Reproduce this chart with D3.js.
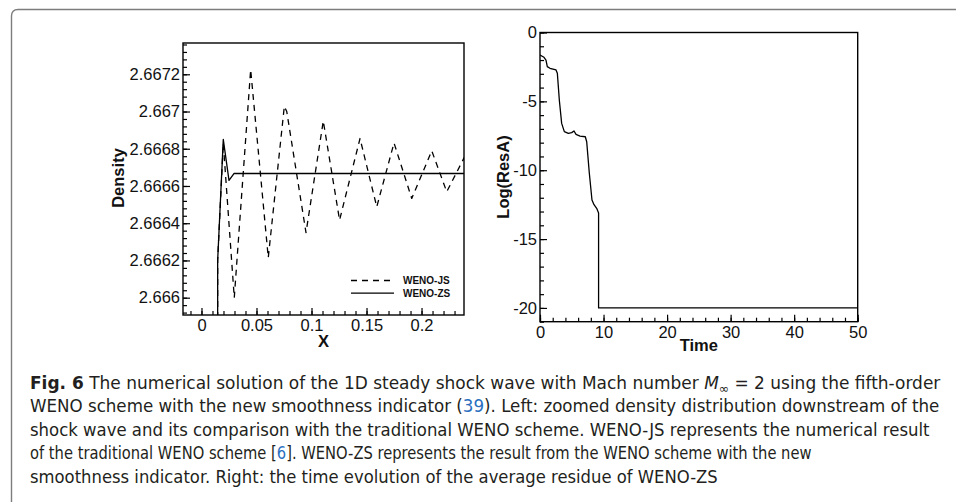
<!DOCTYPE html>
<html><head><meta charset="utf-8">
<script src="https://cdn.jsdelivr.net/npm/d3@7"></script>
<style>
html,body{margin:0;padding:0;background:#fff;}
svg{display:block;}
</style></head>
<body>
<svg id="chart" width="956" height="502"></svg>
<script>
// ---------- Data ----------
const leftXTicks = [0, 0.05, 0.1, 0.15, 0.2];
const leftXTickLabels = ["0", "0.05", "0.1", "0.15", "0.2"];
const densityTicks = [2.666, 2.6662, 2.6664, 2.6666, 2.6668, 2.667, 2.6672];
const densityTickLabels = ["2.666", "2.6662", "2.6664", "2.6666", "2.6668", "2.667", "2.6672"];

const wenoJS_x = [0.0147, 0.0147, 0.0198, 0.0298, 0.0447, 0.0607, 0.0753, 0.0775, 0.0950, 0.1107, 0.1255, 0.1441, 0.1593, 0.1750, 0.1911, 0.2093, 0.2229, 0.2390];
const wenoJS_y = [2.6640, 2.6662, 2.66683, 2.66600, 2.667225, 2.666215, 2.667028, 2.66700, 2.666349, 2.666949, 2.666417, 2.666855, 2.666488, 2.666831, 2.666533, 2.666789, 2.666569, 2.666755];
const wenoZS_x = [0.0147, 0.0147, 0.0198, 0.0250, 0.0295, 0.2390];
const wenoZS_y = [2.6640, 2.6662, 2.66685, 2.66663, 2.666667, 2.666667];
const legendLabels = ["WENO-JS", "WENO-ZS"];

const timeTicks = [0, 10, 20, 30, 40, 50];
const timeTickLabels = ["0", "10", "20", "30", "40", "50"];
const resTicks = [0, -5, -10, -15, -20];
const resTickLabels = ["0", "-5", "-10", "-15", "-20"];
const time_t = [0, 0.63, 0.94, 1.15, 1.57, 2.52, 2.73, 3.04, 3.41, 3.83, 4.46, 4.99, 5.35, 5.67, 6.3, 7.13, 7.35, 7.76, 8.18, 8.5, 8.92, 9.22, 9.22, 50];
const logResA = [-1.63, -1.8, -2.0, -2.48, -2.6, -2.72, -2.96, -4.9, -6.6, -7.2, -7.32, -7.27, -7.15, -7.4, -7.52, -7.57, -7.93, -10.2, -12.16, -12.5, -12.77, -13.1, -20, -20];

const captionLines = [
  [{t:"Fig. 6", w:"bold"}, {t:"  The numerical solution of the 1D steady shock wave with Mach number "}, {t:"M", i:true}, {t:"∞", sub:true}, {t:" = 2 using the fifth-order"}],
  [{t:"WENO scheme with the new smoothness indicator ("}, {t:"39", c:"#2a6fc0"}, {t:"). Left: zoomed density distribution downstream of the"}],
  [{t:"shock wave and its comparison with the traditional WENO scheme. WENO-JS represents the numerical result"}],
  [{t:"of the traditional WENO scheme ["}, {t:"6", c:"#2a6fc0"}, {t:"]. WENO-ZS represents the result from the WENO scheme with the new"}],
  [{t:"smoothness indicator. Right: the time evolution of the average residue of WENO-ZS"}]
];
const captionWidths = [911, 910, 900, 782, 688];

// ---------- Setup ----------
const svg = d3.select("#chart");
const FONT = "'Liberation Sans', Arial, Helvetica, sans-serif";

// outer frame
svg.append("path")
  .attr("d", "M11.5,502 L11.5,16 Q11.5,9.5 18,9.5 L956,9.5")
  .attr("fill", "none").attr("stroke", "#7d7d7d").attr("stroke-width", 1.4);

function rangeStep(a, b, s) { const r = []; for (let k = 0; a + k * s <= b + 1e-12; k++) r.push(+(a + k * s).toFixed(6)); return r; }

function drawPanel(cfg) {
  const g = svg.append("g");
  const x = d3.scaleLinear().domain(cfg.xDomain).range(cfg.xRange);
  const y = d3.scaleLinear().domain(cfg.yDomain).range(cfg.yRange);
  const [x0, x1] = cfg.xRange, [y1, y0] = cfg.yRange;

  const clipId = "clip" + cfg.id;
  svg.append("clipPath").attr("id", clipId).append("rect")
    .attr("x", x0).attr("y", y0).attr("width", x1 - x0).attr("height", y1 - y0);

  const minorX = g.append("g").attr("transform", `translate(0,${y1})`)
    .call(d3.axisBottom(x).tickValues(cfg.xMinor).tickSize(-4).tickFormat(""));
  const minorY = g.append("g").attr("transform", `translate(${x0},0)`)
    .call(d3.axisLeft(y).tickValues(cfg.yMinor).tickSize(-4).tickFormat(""));
  const majX = g.append("g").attr("transform", `translate(0,${y1})`)
    .call(d3.axisBottom(x).tickValues(cfg.xTicks).tickSize(-7).tickPadding(4.5)
      .tickFormat((d, i) => cfg.xLabels[i]));
  const majY = g.append("g").attr("transform", `translate(${x0},0)`)
    .call(d3.axisLeft(y).tickValues(cfg.yTicks).tickSize(-7).tickPadding(3)
      .tickFormat((d, i) => cfg.yLabels[i]));
  [minorX, minorY, majX, majY].forEach(a => {
    a.select(".domain").remove();
    a.selectAll("line").attr("stroke", "#000").attr("stroke-width", 1.2);
    a.selectAll("text").attr("font-family", FONT).attr("font-size", 16.5).attr("fill", "#111");
  });

  cfg.series.forEach(s => {
    const pts = s.x.map((v, i) => [v, s.y[i]]);
    g.append("path").datum(pts)
      .attr("clip-path", `url(#${clipId})`)
      .attr("d", d3.line().x(d => x(d[0])).y(d => y(d[1])))
      .attr("fill", "none").attr("stroke", "#000").attr("stroke-width", 1.3)
      .attr("stroke-dasharray", s.dash || null)
      .attr("stroke-linejoin", "round");
  });

  g.append("rect").attr("x", x0).attr("y", y0).attr("width", x1 - x0).attr("height", y1 - y0)
    .attr("fill", "none").attr("stroke", "#000").attr("stroke-width", 1.4);

  g.append("text").attr("x", (x0 + x1) / 2).attr("y", y1 + cfg.xTitleDy)
    .attr("text-anchor", "middle").attr("font-family", FONT).attr("font-weight", "bold")
    .attr("font-size", 16.5).attr("fill", "#111").text(cfg.xTitle);
  g.append("text").attr("transform", `translate(${cfg.yTitleX},${cfg.yTitleY}) rotate(-90)`)
    .attr("text-anchor", "middle").attr("font-family", FONT).attr("font-weight", "bold")
    .attr("font-size", 16.5).attr("fill", "#111").text(cfg.yTitle);
  return {g, x, y};
}

const L = drawPanel({
  id: "L",
  xDomain: [-0.0168, 0.2386], xRange: [183, 464],
  yDomain: [2.665907, 2.667368], yRange: [315, 43],
  xTicks: leftXTicks, xLabels: leftXTickLabels, xMinor: rangeStep(-0.01, 0.23, 0.01),
  yTicks: densityTicks, yLabels: densityTickLabels, yMinor: rangeStep(2.66592, 2.66736, 0.00004),
  series: [
    {x: wenoJS_x, y: wenoJS_y, dash: "6,5"},
    {x: wenoZS_x, y: wenoZS_y}
  ],
  xTitle: "X", xTitleDy: 32, yTitle: "Density", yTitleX: 124, yTitleY: 178
});

const legG = svg.append("g");
legendLabels.forEach((lab, i) => {
  const yy = 280.5 + i * 12.7;
  legG.append("line").attr("x1", 351).attr("x2", 394).attr("y1", yy).attr("y2", yy)
    .attr("stroke", "#000").attr("stroke-width", 1.3).attr("stroke-dasharray", i === 0 ? "6,5" : null);
  legG.append("text").attr("x", 403).attr("y", yy + 3.6).attr("font-family", FONT)
    .attr("font-weight", "bold").attr("font-size", 10).attr("fill", "#111").text(lab);
});

const R = drawPanel({
  id: "R",
  xDomain: [0, 50], xRange: [540, 857.7],
  yDomain: [-21, 0], yRange: [321.7, 32.5],
  xTicks: timeTicks, xLabels: timeTickLabels, xMinor: rangeStep(0, 50, 2),
  yTicks: resTicks, yLabels: resTickLabels, yMinor: rangeStep(-21, 0, 1),
  series: [{x: time_t, y: logResA}],
  xTitle: "Time", xTitleDy: 29, yTitle: "Log(ResA)", yTitleX: 509, yTitleY: 177
});

// caption
const CFONT = "'DejaVu Sans Condensed', 'Liberation Sans Narrow', 'Liberation Sans', sans-serif";
captionLines.forEach((line, li) => {
  const yb = 389 + li * 23.4;
  const t = svg.append("text").attr("x", 0).attr("y", 0)
    .attr("font-family", CFONT).attr("font-size", 18).attr("fill", "#231f20");
  line.forEach((seg, si) => {
    const ts = t.append("tspan").text(seg.t);
    if (seg.w) ts.attr("font-weight", seg.w);
    if (seg.i) ts.attr("font-style", "italic");
    if (seg.c) ts.attr("fill", seg.c);
    if (seg.sub) ts.attr("font-size", 13).attr("dy", 4);
    if (si > 0 && line[si - 1].sub) ts.attr("dy", -4);
  });
  const w = t.node().getComputedTextLength();
  const sx = captionWidths[li] / w;
  t.attr("transform", `translate(30,${yb}) scale(${sx.toFixed(4)},1)`);
});
</script>
</body></html>
